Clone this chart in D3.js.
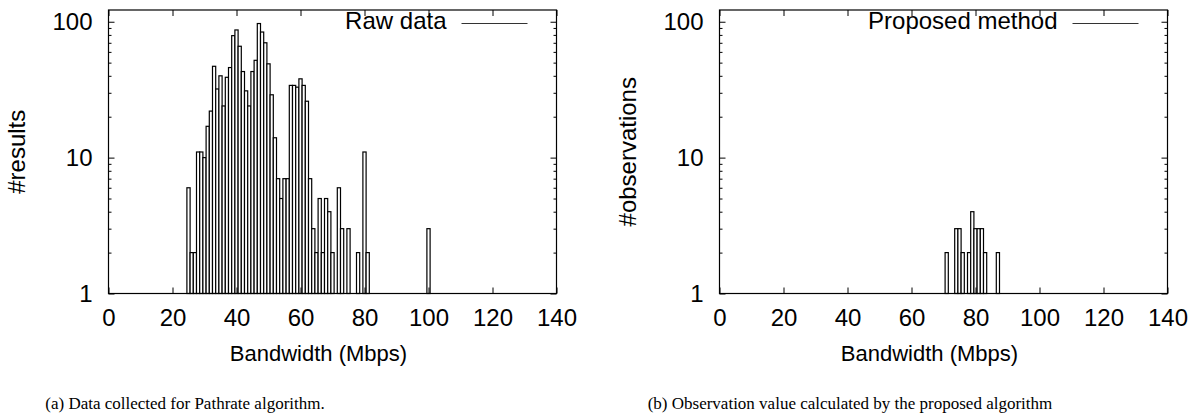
<!DOCTYPE html>
<html>
<head>
<meta charset="utf-8">
<script src="https://cdn.jsdelivr.net/npm/d3@7"></script>
<style>
body { margin: 0; background: #fff; }
</style>
</head>
<body>
<svg id="chart" width="1202" height="419"></svg>
<script>

// bin centres (Mbps) and counts
var rawBins = [25,26,27,28,29,30,31,32,33,34,35,36,37,38,39,40,41,42,43,44,
  45,46,47,48,49,50,51,52,53,54,55,56,57,58,59,60,61,62,63,64,65,66,67,68,69,70,
  72,73,75,78,80,81,100];
var rawCounts = [6,2,2,11,11,10,17,22,47,32,40,24,39,46,79,87,66,43,31,24,
  43,52,97,84,70,49,29,14,7,5,7,7,34,34,33,38,34,26,7,3,2,5,2,5,4,2,
  6,3,3,2,11,2,3];

var propBins = [71,74,75,76,78,79,80,81,82,83,87];
var propCounts = [2,3,3,2,2,4,3,3,3,2,2];

var xDomain = [0, 140];
var xTicks = [0, 20, 40, 60, 80, 100, 120, 140];
var yDomain = [1, 122];
var yTicks = [1, 10, 100];
var yMinorTicks = [2,3,4,5,6,7,8,9,20,30,40,50,60,70,80,90];

var sans = '"Liberation Sans", Arial, Helvetica, sans-serif';
var serif = '"Liberation Serif", "Times New Roman", Times, serif';

var svg = d3.select('#chart');

var plotW = 448, plotTop = 10, plotBottom = 293.5;

var Panel = function(left, bins, counts, yTitle, legendText, caption, captionX) {
  var panel = this;
  var right = left + plotW;

  panel.x = d3.scaleLinear().domain(xDomain).range([left, right]);
  panel.y = d3.scaleLog().domain(yDomain).range([plotBottom, plotTop]);
  var x = panel.x, y = panel.y;

  var g = svg.append('g');

  // boxes, one per 1 Mbps bin
  g.selectAll('rect.bar')
    .data(bins)
    .enter().append('rect')
    .attr('class', 'bar')
    .attr('x', function(d) { return x(d - 0.5); })
    .attr('width', function(d) { return x(d + 0.5) - x(d - 0.5); })
    .attr('y', function(d, i) { return y(counts[i]); })
    .attr('height', function(d, i) { return plotBottom - y(counts[i]); })
    .style('fill', '#fff')
    .style('stroke', '#000')
    .style('stroke-width', 1.2);

  function noDomain(sel) { sel.select('.domain').remove(); }

  // ticks point inward on all four sides (gnuplot style)
  g.append('g').attr('transform', 'translate(0,' + plotBottom + ')')
    .call(d3.axisBottom(x).tickValues(xTicks).tickSize(-6).tickPadding(15))
    .call(noDomain);
  g.append('g').attr('transform', 'translate(0,' + plotTop + ')')
    .call(d3.axisTop(x).tickValues(xTicks).tickSize(-6).tickFormat(''))
    .call(noDomain);

  g.append('g').attr('transform', 'translate(' + left + ',0)')
    .call(d3.axisLeft(y).tickValues(yTicks).tickSize(-6).tickPadding(16).tickFormat(d3.format('d')))
    .call(noDomain);
  g.append('g').attr('transform', 'translate(' + left + ',0)')
    .call(d3.axisLeft(y).tickValues(yMinorTicks).tickSize(-3).tickFormat(''))
    .call(noDomain);
  g.append('g').attr('transform', 'translate(' + right + ',0)')
    .call(d3.axisRight(y).tickValues(yTicks).tickSize(-6).tickFormat(''))
    .call(noDomain);
  g.append('g').attr('transform', 'translate(' + right + ',0)')
    .call(d3.axisRight(y).tickValues(yMinorTicks).tickSize(-3).tickFormat(''))
    .call(noDomain);

  g.selectAll('.tick text')
    .style('font-family', sans)
    .style('font-size', '24px')
    .style('fill', '#000');

  g.append('rect')
    .attr('x', left).attr('y', plotTop)
    .attr('width', plotW).attr('height', plotBottom - plotTop)
    .style('fill', 'none').style('stroke', '#000').style('stroke-width', 1.2);

  // key
  g.append('text')
    .attr('x', right - 110).attr('y', 29)
    .attr('text-anchor', 'end')
    .style('font-family', sans).style('font-size', '24px')
    .text(legendText);
  g.append('line')
    .attr('x1', right - 95).attr('x2', right - 29)
    .attr('y1', 23.5).attr('y2', 23.5)
    .style('stroke', '#333').style('stroke-width', 1);

  g.append('text')
    .attr('x', (left + right) / 2 - 14).attr('y', 361)
    .attr('text-anchor', 'middle')
    .style('font-family', sans).style('font-size', '22px')
    .text('Bandwidth (Mbps)');

  g.append('text')
    .attr('transform', 'translate(' + (left - 84) + ',' + (plotTop + plotBottom) / 2 + ') rotate(-90)')
    .attr('text-anchor', 'middle')
    .style('font-family', sans).style('font-size', '24px')
    .text(yTitle);

  g.append('text')
    .attr('x', captionX).attr('y', 409)
    .attr('text-anchor', 'middle')
    .style('font-family', serif).style('font-size', '17px')
    .text(caption);
};

var panels = [
  new Panel(108.5, rawBins, rawCounts, '#results', 'Raw data',
    '(a) Data collected for Pathrate algorithm.', 185),
  new Panel(719.5, propBins, propCounts, '#observations', 'Proposed method',
    '(b) Observation value calculated by the proposed algorithm', 850)
];
</script>
</body>
</html>
